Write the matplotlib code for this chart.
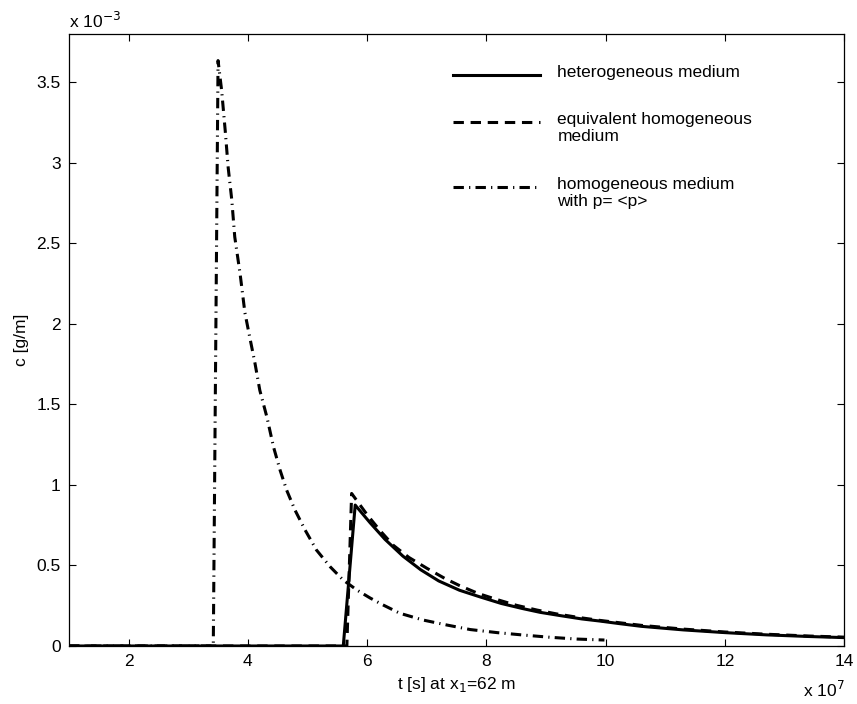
import matplotlib.pyplot as plt
from matplotlib.lines import Line2D

plt.rcParams['font.family'] = ['Liberation Sans', 'DejaVu Sans']

# t in units of 1e7 s, c in units of 1e-3 g/m
t_het = [1.0, 5.60, 5.80, 6.05, 6.30, 6.60, 6.90, 7.20, 7.55, 7.90, 8.25, 8.60,
         8.90, 9.25, 9.60, 9.90, 10.25, 10.60, 11.30, 12.00, 12.70, 13.40, 14.00]
c_het = [0.0, 0.0, 0.875, 0.765, 0.662, 0.558, 0.473, 0.404, 0.346, 0.304, 0.264, 0.233,
         0.209, 0.188, 0.168, 0.155, 0.138, 0.122, 0.100, 0.083, 0.069, 0.059, 0.052]

t_eq = [1.0, 5.66, 5.74, 6.00, 6.22, 6.44, 6.70, 7.00, 7.30, 7.55, 7.87, 8.18, 8.50,
        8.85, 9.18, 9.55, 9.88, 10.60, 11.30, 12.00, 12.70, 13.40, 14.00]
c_eq = [0.0, 0.0, 0.947, 0.815, 0.715, 0.625, 0.550, 0.483, 0.420, 0.375, 0.325, 0.288, 0.253,
        0.223, 0.199, 0.177, 0.160, 0.128, 0.105, 0.087, 0.073, 0.062, 0.055]

t_mean = [1.0, 3.42, 3.50, 3.56, 3.62, 3.67, 3.73, 3.78, 3.87, 3.95, 4.03, 4.12, 4.20,
          4.32, 4.43, 4.54, 4.65, 4.79, 4.96, 5.15, 5.38, 5.60, 5.83, 6.05, 6.25, 6.55,
          6.94, 7.34, 7.73, 8.18, 8.62, 9.07, 9.52, 9.98]
c_mean = [0.0, 0.0, 3.635, 3.45, 3.20, 2.97, 2.77, 2.54, 2.31, 2.07, 1.92, 1.754, 1.588,
          1.42, 1.236, 1.092, 0.968, 0.844, 0.720, 0.596, 0.492, 0.409, 0.347, 0.298, 0.258, 0.203,
          0.161, 0.130, 0.102, 0.083, 0.068, 0.054, 0.043, 0.037]

labels = ['heterogeneous medium',
          'equivalent homogeneous\nmedium',
          'homogeneous medium\nwith p= <p>']

fig = plt.figure(figsize=(8.57, 7.04), dpi=100)
ax = fig.add_axes([0.0805, 0.0824, 0.9045, 0.8693])

lw = 2.2
ls_eq = (0, (3.4, 2.2))
ls_mean = (0, (3.4, 1.7, 0.4, 1.7))
ax.plot(t_het, c_het, color='k', lw=lw, ls='-')
ax.plot(t_eq, c_eq, color='k', lw=lw, ls=ls_eq)
ax.plot(t_mean, c_mean, color='k', lw=lw, ls=ls_mean)

ax.set_xlim(1, 14)
ax.set_ylim(0, 3.8)
ax.set_xticks([2, 4, 6, 8, 10, 12, 14])
ax.set_yticks([0, 0.5, 1, 1.5, 2, 2.5, 3, 3.5])
ax.set_xticklabels(['2', '4', '6', '8', '10', '12', '14'])
ax.set_yticklabels(['0', '0.5', '1', '1.5', '2', '2.5', '3', '3.5'])
ax.tick_params(direction='in', top=True, right=True, length=5, width=0.8,
               labelsize=12.5, pad=6)
for s in ax.spines.values():
    s.set_linewidth(0.9)

ax.set_xlabel('t [s] at x$_1$=62 m', fontsize=12.5, labelpad=4)
ax.set_ylabel('c [g/m]', fontsize=12.5, labelpad=5)

ax.text(0.0, 1.005, r'x 10$^{-3}$', transform=ax.transAxes, fontsize=12.5,
        ha='left', va='bottom')
ax.text(1.0, -0.055, r'x 10$^{7}$', transform=ax.transAxes, fontsize=12.5,
        ha='right', va='top')

# legend drawn by hand so each sample sits beside the first text line
styles = ['-', ls_eq, ls_mean]
rows_y = [0.933, 0.856, 0.750]
for st, lab, ry in zip(styles, labels, rows_y):
    ax.add_line(Line2D([0.495, 0.607], [ry, ry], transform=ax.transAxes,
                       color='k', lw=lw, ls=st))
    ax.text(0.63, ry + 0.016, lab, transform=ax.transAxes, fontsize=12.5,
            ha='left', va='top', linespacing=1.15)

fig.savefig('out.png', dpi=100)
